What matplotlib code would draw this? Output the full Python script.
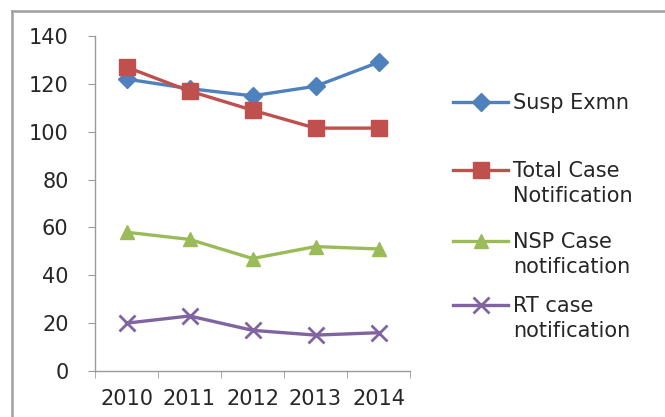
import matplotlib
matplotlib.use("Agg")
import matplotlib.pyplot as plt
from matplotlib.lines import Line2D
import numpy as np

years = ["2010", "2011", "2012", "2013", "2014"]
susp_exmn = [122, 118, 115, 119, 129]
total_case = [127, 117, 109, 101.5, 101.5]
nsp_case = [58, 55, 47, 52, 51]
rt_case = [20, 23, 17, 15, 16]
labels = ["Susp Exmn", "Total Case\nNotification", "NSP Case\nnotification", "RT case\nnotification"]

series = [susp_exmn, total_case, nsp_case, rt_case]
colors = ["#4F81BD", "#C0504D", "#9BBB59", "#8064A2"]
markers = ["D", "s", "^", "x"]
msizes = [9, 11, 10, 11]

plt.rcParams['font.family'] = ['DejaVu Sans']
fig = plt.figure(figsize=(6.65, 4.17), dpi=100)
W, H = 665, 417
ax = fig.add_axes([95 / W, 1 - 371 / H, (410 - 95) / W, (371 - 36) / H])

x = np.arange(len(years))
for vals, c, m, ms in zip(series, colors, markers, msizes):
    kw = dict(markeredgewidth=2) if m == "x" else dict(markeredgecolor=c)
    ax.plot(x, vals, color=c, lw=2.4, marker=m, markersize=ms, markerfacecolor=c, **kw)

ax.set_xlim(-0.5, len(years) - 0.5)
ax.set_ylim(0, 140)
ax.set_yticks(range(0, 141, 20))
ax.set_xticks(x)
ax.set_xticklabels(years)
ax.set_xticks(np.arange(-0.5, len(years)), minor=True)
for s in ["top", "right"]:
    ax.spines[s].set_visible(False)
for s in ["left", "bottom"]:
    ax.spines[s].set_color("#9a9a9a")
    ax.spines[s].set_linewidth(1)
ax.tick_params(axis="x", which="major", length=0, labelsize=15, labelcolor="#262626", pad=13)
ax.tick_params(axis="x", which="minor", length=5, color="#9a9a9a", direction="out")
ax.tick_params(axis="y", length=5, color="#9a9a9a", labelsize=15, labelcolor="#262626", pad=14)

# outer frame (top and left borders)
fig.add_artist(Line2D([12 / W, 1], [1 - 11 / H, 1 - 11 / H], transform=fig.transFigure, color="#a0a0a0", lw=1.8))
fig.add_artist(Line2D([12 / W, 12 / W], [0, 1 - 11 / H], transform=fig.transFigure, color="#a0a0a0", lw=1.8))

# legend
rows = [102, 170, 241, 305]
for lab, c, m, ms, yy in zip(labels, colors, markers, msizes, rows):
    yf = 1 - yy / H
    kw = dict(markeredgewidth=2) if m == "x" else dict(markeredgecolor=c)
    fig.add_artist(Line2D([453 / W, 508 / W], [yf, yf], transform=fig.transFigure, color=c, lw=2.4))
    fig.add_artist(Line2D([480.5 / W], [yf], transform=fig.transFigure, color=c, marker=m,
                          markersize=ms, markerfacecolor=c, linestyle="none", **kw))
    fig.text(513 / W, yf + 9 / H, lab, fontsize=15, color="#262626", va="top", ha="left",
             linespacing=1.3)

fig.savefig("out.png", dpi=100)
